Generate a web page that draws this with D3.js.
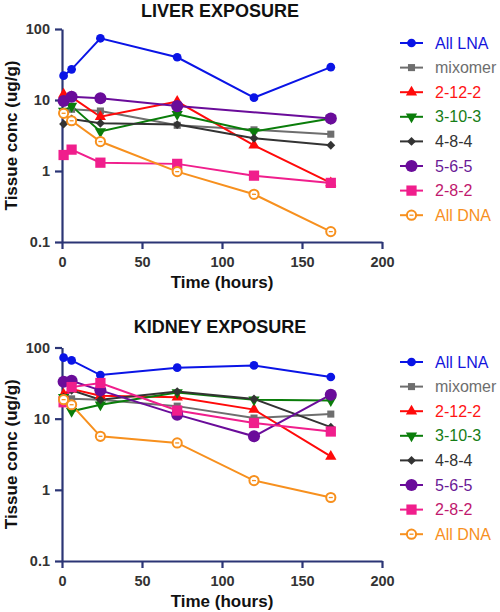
<!DOCTYPE html>
<html><head><meta charset="utf-8">
<script src="https://cdn.jsdelivr.net/npm/d3@7"></script>
<style>body{margin:0;background:#fff}svg{display:block;font-family:"Liberation Sans",Arial,sans-serif}</style>
</head><body><svg id="c" width="500" height="612"></svg>
<script>
const times = [1, 6, 24, 72, 120, 168];
const seriesNames = ["All LNA","mixomer","2-12-2","3-10-3","4-8-4","5-6-5","2-8-2","All DNA"];
const liverAllLNA  = [22, 27, 74, 40, 10.8, 29];
const liverMixomer = [6.5, 7.4, 7.0, 4.4, 3.8, 3.3];
const liver2122    = [12, 11, 5.8, 9.5, 2.3, 0.68];
const liver3103    = [7, 8.2, 3.6, 6.3, 3.6, 5.5];
const liver484     = [4.6, 5.4, 4.7, 4.5, 2.9, 2.3];
const liver565     = [9.7, 11.1, 10.6, 8.2, null, 5.5];
const liver282     = [1.68, 2.0, 1.31, 1.26, 0.86, 0.68];
const liverAllDNA  = [6.5, 5.1, 2.6, 0.98, 0.47, 0.14];
const kidneyAllLNA  = [72, 66, 41, 52, 56, 38.5];
const kidneyMixomer = [17, 19, 18.5, 15, 10.2, 11.6];
const kidney2122    = [22, 26, 21, 20, 13.4, 2.95];
const kidney3103    = [20, 12.7, 15.7, 23.4, 18.5, 18];
const kidney484     = [20, 25, 18.5, 24, 18.9, 7.6];
const kidney565     = [33, 34, 25, 11.4, 5.65, 21.7];
const kidney282     = [17, 27.8, 31.7, 13, 8.7, 6.6];
const kidneyAllDNA  = [18.5, 15.7, 5.65, 4.56, 1.35, 0.78];
const xTicks = [0, 50, 100, 150, 200];
const yTicks = [0.1, 1, 10, 100];
const yTickLabels = ["0.1", "1", "10", "100"];

const colors = ["#0a14e6","#6e6e6e","#ff0a0a","#0a7d0a","#333333","#6a0c9a","#f01e8c","#f7901e"];
const textColors = ["#1414dc","#6e6e6e","#ff1414","#167d16","#333333","#6a1a96","#c0186e","#f7901e"];
const shapes = [
  {t:d3.symbolCircle, s:60},
  {t:d3.symbolSquare, s:50},
  {t:d3.symbolTriangle, s:55},
  {t:d3.symbolTriangle, s:55, rot:180},
  {t:d3.symbolSquare, s:40, rot:45},
  {t:d3.symbolCircle, s:115},
  {t:d3.symbolSquare, s:105},
  {t:"open"}
];
const axisColor = "#2b3575";

const svg = d3.select("#c");

function drawMarker(g, i, x, y) {
  const sh = shapes[i];
  if (sh.t === "open") {
    g.append("circle").attr("cx", x).attr("cy", y).attr("r", 4.6)
      .attr("fill", "#fff").attr("stroke", colors[i]).attr("stroke-width", 2);
    g.append("line").attr("x1", x-2).attr("x2", x+2).attr("y1", y).attr("y2", y)
      .attr("stroke", colors[i]).attr("stroke-width", 1.3);
  } else {
    g.append("path").attr("d", d3.symbol().type(sh.t).size(sh.s)())
      .attr("transform", `translate(${x},${y})` + (sh.rot ? ` rotate(${sh.rot})` : ""))
      .attr("fill", colors[i]);
  }
}

function panel(cfg) {
  const x = d3.scaleLinear().domain([0, 200]).range([62, 382]);
  const y = d3.scaleLog().domain([0.1, 100]).range([cfg.bottom, cfg.top]);
  const g = svg.append("g");

  g.append("text").attr("x", 220).attr("y", cfg.titleY).attr("text-anchor", "middle")
    .attr("font-size", 18).attr("font-weight", "bold").attr("fill", "#111").text(cfg.title);

  const yAxis = g.append("g").attr("transform", "translate(62,0)")
    .call(d3.axisLeft(y).tickValues(yTicks).tickFormat((d, i) => yTickLabels[i]).tickSize(7).tickSizeOuter(0));
  const xAxis = g.append("g").attr("transform", `translate(0,${cfg.bottom})`)
    .call(d3.axisBottom(x).tickValues(xTicks).tickSize(7).tickSizeOuter(0));
  [yAxis, xAxis].forEach(a => {
    a.select(".domain").attr("stroke", axisColor).attr("stroke-width", 2.2);
    a.selectAll(".tick line").attr("stroke", axisColor).attr("stroke-width", 2.2);
    a.selectAll("text").attr("font-size", 14.5).attr("font-weight", "bold").attr("fill", "#333")
      .attr("font-family", '"Liberation Sans",Arial,sans-serif');
  });
  yAxis.selectAll("text").attr("dx", "-2");
  xAxis.selectAll("text").attr("dy", "1.05em");

  g.append("text").attr("x", 222).attr("y", cfg.bottom + 46).attr("text-anchor", "middle")
    .attr("font-size", 17).attr("font-weight", "bold").attr("fill", "#111").text("Time (hours)");
  g.append("text").attr("transform", `translate(17,${(cfg.top + cfg.bottom) / 2}) rotate(-90)`)
    .attr("text-anchor", "middle").attr("font-size", 17).attr("font-weight", "bold").attr("fill", "#111")
    .text("Tissue conc (ug/g)");

  const line = d3.line().x(d => x(d.t)).y(d => y(d.v));
  cfg.series.forEach((vals, i) => {
    const pts = times.map((t, k) => ({t, v: vals[k]})).filter(d => d.v != null);
    g.append("path").attr("d", line(pts)).attr("fill", "none")
      .attr("stroke", colors[i]).attr("stroke-width", 2);
  });
  cfg.series.forEach((vals, i) => {
    times.forEach((t, k) => { if (vals[k] != null) drawMarker(g, i, x(t), y(vals[k])); });
  });

  const lg = g.append("g");
  seriesNames.forEach((name, i) => {
    const cy = cfg.legendY + i * 24.6;
    lg.append("line").attr("x1", 400).attr("x2", 423).attr("y1", cy).attr("y2", cy)
      .attr("stroke", colors[i]).attr("stroke-width", 2);
    drawMarker(lg, i, 411.5, cy);
    lg.append("text").attr("x", 435).attr("y", cy + 5.6).attr("font-size", 16)
      .attr("fill", textColors[i]).text(name);
  });
}

panel({title: "LIVER EXPOSURE", titleY: 16.5, top: 29, bottom: 242, legendY: 43,
  series: [liverAllLNA, liverMixomer, liver2122, liver3103, liver484, liver565, liver282, liverAllDNA]});
panel({title: "KIDNEY EXPOSURE", titleY: 333, top: 347.5, bottom: 561, legendY: 362,
  series: [kidneyAllLNA, kidneyMixomer, kidney2122, kidney3103, kidney484, kidney565, kidney282, kidneyAllDNA]});
</script></body></html>
